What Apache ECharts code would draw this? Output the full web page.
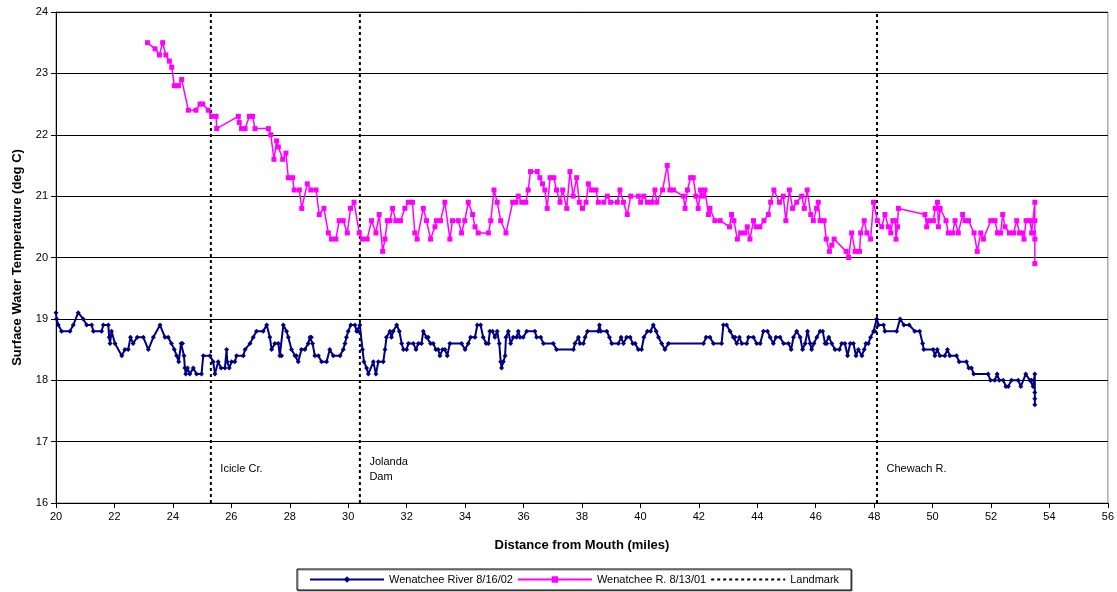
<!DOCTYPE html>
<html>
<head>
<meta charset="utf-8">
<title>Wenatchee River surface temperature</title>
<script src="https://cdn.jsdelivr.net/npm/echarts@6/dist/echarts.min.js"></script>
<style>
	* { margin: 0; padding: 0 }
	html, body { width: 100%; height: 100%; background: #fff; }
	#main { width: 1117px; height: 592px; }
</style>
</head>
<body>
<div id="main"></div>
<script>
// 2002 survey (blue)
var miles02 = [20.0, 20.02, 20.08, 20.19, 20.48, 20.59, 20.76, 20.93, 21.05, 21.22, 21.28, 21.56, 21.62, 21.79, 21.82, 21.85, 21.9, 22.02, 22.25, 22.36, 22.47, 22.55, 22.64, 22.78, 22.99, 23.16, 23.33, 23.56, 23.73, 23.84, 23.95, 24.05, 24.13, 24.2, 24.28, 24.33, 24.38, 24.41, 24.44, 24.5, 24.58, 24.7, 24.81, 24.98, 25.04, 25.27, 25.38, 25.44, 25.55, 25.65, 25.78, 25.84, 25.86, 25.93, 26.01, 26.12, 26.18, 26.41, 26.47, 26.64, 26.75, 26.86, 27.09, 27.21, 27.32, 27.38, 27.49, 27.61, 27.66, 27.72, 27.78, 27.89, 27.95, 28.06, 28.18, 28.23, 28.29, 28.40, 28.52, 28.63, 28.69, 28.74, 28.78, 28.86, 28.98, 29.09, 29.26, 29.37, 29.49, 29.72, 29.83, 29.89, 29.94, 30.0, 30.09, 30.23, 30.29, 30.34, 30.40, 30.49, 30.54, 30.63, 30.69, 30.86, 30.95, 31.03, 31.2, 31.26, 31.31, 31.43, 31.48, 31.54, 31.66, 31.75, 31.83, 31.89, 32.0, 32.06, 32.23, 32.32, 32.40, 32.51, 32.57, 32.68, 32.74, 32.82, 32.91, 33.0, 33.08, 33.14, 33.23, 33.31, 33.39, 33.48, 33.88, 34.0, 34.11, 34.19, 34.34, 34.42, 34.53, 34.62, 34.72, 34.8, 34.85, 34.94, 35.02, 35.1, 35.17, 35.22, 35.25, 35.31, 35.37, 35.40, 35.48, 35.56, 35.65, 35.76, 35.82, 35.88, 35.99, 36.11, 36.39, 36.45, 36.59, 36.68, 37.02, 37.13, 37.71, 37.76, 37.88, 37.93, 38.05, 38.11, 38.19, 38.56, 38.6, 38.64, 38.85, 38.94, 39.02, 39.25, 39.34, 39.42, 39.53, 39.65, 39.74, 39.82, 39.93, 40.04, 40.12, 40.24, 40.35, 40.44, 40.54, 40.62, 40.73, 40.84, 40.96, 42.16, 42.25, 42.38, 42.5, 42.78, 42.84, 42.95, 43.07, 43.18, 43.24, 43.3, 43.39, 43.47, 43.64, 43.7, 43.87, 43.98, 44.1, 44.21, 44.35, 44.44, 44.55, 44.64, 44.78, 44.9, 45.07, 45.16, 45.24, 45.35, 45.47, 45.55, 45.64, 45.72, 45.81, 45.86, 45.94, 46.04, 46.15, 46.24, 46.32, 46.38, 46.45, 46.55, 46.66, 46.81, 46.89, 47.0, 47.09, 47.18, 47.29, 47.38, 47.46, 47.58, 47.66, 47.72, 47.8, 47.88, 47.98, 48.03, 48.09, 48.15, 48.32, 48.37, 48.77, 48.89, 49.02, 49.2, 49.39, 49.56, 49.66, 49.7, 50.02, 50.08, 50.16, 50.25, 50.42, 50.51, 50.59, 50.82, 50.91, 51.16, 51.24, 51.33, 51.41, 51.9, 51.98, 52.13, 52.21, 52.28, 52.42, 52.51, 52.59, 52.7, 52.93, 53.02, 53.19, 53.33, 53.39, 53.44, 53.5, 53.5, 53.5, 53.5];
var temp02 = [19.1, 19.0, 18.9, 18.8, 18.8, 18.9, 19.1, 19.0, 18.9, 18.9, 18.8, 18.8, 18.9, 18.9, 18.7, 18.6, 18.8, 18.6, 18.4, 18.5, 18.5, 18.7, 18.6, 18.7, 18.7, 18.5, 18.7, 18.9, 18.7, 18.7, 18.6, 18.5, 18.4, 18.3, 18.6, 18.6, 18.4, 18.2, 18.1, 18.2, 18.1, 18.2, 18.1, 18.1, 18.4, 18.4, 18.3, 18.1, 18.3, 18.2, 18.2, 18.5, 18.3, 18.2, 18.3, 18.3, 18.4, 18.4, 18.5, 18.6, 18.7, 18.8, 18.8, 18.9, 18.7, 18.5, 18.6, 18.6, 18.4, 18.4, 18.9, 18.8, 18.7, 18.5, 18.4, 18.4, 18.3, 18.5, 18.5, 18.6, 18.7, 18.7, 18.6, 18.4, 18.4, 18.3, 18.3, 18.5, 18.4, 18.4, 18.5, 18.6, 18.7, 18.8, 18.9, 18.9, 18.8, 18.8, 18.9, 18.5, 18.3, 18.2, 18.1, 18.3, 18.1, 18.3, 18.3, 18.5, 18.7, 18.8, 18.7, 18.8, 18.9, 18.8, 18.6, 18.5, 18.5, 18.6, 18.6, 18.5, 18.6, 18.6, 18.8, 18.7, 18.7, 18.6, 18.6, 18.5, 18.5, 18.4, 18.5, 18.5, 18.4, 18.6, 18.6, 18.5, 18.6, 18.7, 18.7, 18.9, 18.9, 18.7, 18.6, 18.6, 18.8, 18.8, 18.7, 18.8, 18.6, 18.3, 18.2, 18.3, 18.4, 18.7, 18.8, 18.6, 18.7, 18.7, 18.8, 18.7, 18.7, 18.8, 18.8, 18.7, 18.7, 18.6, 18.6, 18.5, 18.5, 18.6, 18.7, 18.6, 18.6, 18.7, 18.8, 18.8, 18.9, 18.8, 18.8, 18.7, 18.6, 18.6, 18.7, 18.6, 18.7, 18.7, 18.6, 18.6, 18.5, 18.5, 18.7, 18.8, 18.8, 18.9, 18.8, 18.7, 18.6, 18.5, 18.6, 18.6, 18.7, 18.7, 18.6, 18.6, 18.9, 18.9, 18.8, 18.7, 18.7, 18.6, 18.7, 18.6, 18.6, 18.7, 18.7, 18.6, 18.6, 18.8, 18.8, 18.7, 18.6, 18.7, 18.7, 18.6, 18.6, 18.5, 18.7, 18.8, 18.7, 18.5, 18.6, 18.8, 18.6, 18.5, 18.6, 18.7, 18.8, 18.8, 18.6, 18.6, 18.7, 18.6, 18.5, 18.5, 18.6, 18.6, 18.4, 18.6, 18.6, 18.4, 18.5, 18.4, 18.5, 18.6, 18.6, 18.7, 18.8, 18.8, 19.0, 18.9, 18.9, 18.8, 18.8, 19.0, 18.9, 18.9, 18.8, 18.8, 18.6, 18.5, 18.5, 18.4, 18.5, 18.4, 18.4, 18.5, 18.4, 18.4, 18.3, 18.3, 18.2, 18.2, 18.1, 18.1, 18.0, 18.0, 18.1, 18.0, 18.0, 17.9, 17.9, 18.0, 18.0, 17.9, 18.1, 18.0, 18.0, 17.9, 18.1, 17.8, 17.7, 17.6];

// 2001 survey (magenta)
var miles01 = [23.13, 23.39, 23.54, 23.65, 23.76, 23.88, 23.96, 24.05, 24.19, 24.3, 24.53, 24.79, 24.93, 25.02, 25.21, 25.33, 25.48, 25.5, 26.24, 26.27, 26.35, 26.47, 26.62, 26.73, 26.81, 27.27, 27.35, 27.46, 27.55, 27.61, 27.76, 27.87, 27.95, 28.1, 28.15, 28.33, 28.41, 28.6, 28.72, 28.9, 29.01, 29.17, 29.32, 29.43, 29.58, 29.69, 29.83, 29.97, 30.08, 30.2, 30.38, 30.49, 30.65, 30.8, 30.95, 31.06, 31.18, 31.26, 31.34, 31.43, 31.52, 31.63, 31.79, 31.94, 32.06, 32.2, 32.28, 32.36, 32.57, 32.68, 32.82, 32.97, 33.02, 33.16, 33.31, 33.48, 33.57, 33.77, 33.88, 33.99, 34.11, 34.26, 34.34, 34.45, 34.8, 34.88, 34.99, 35.1, 35.22, 35.4, 35.63, 35.74, 35.82, 35.94, 36.08, 36.16, 36.24, 36.47, 36.56, 36.65, 36.73, 36.81, 36.91, 37.04, 37.13, 37.25, 37.34, 37.48, 37.59, 37.7, 37.82, 37.91, 38.02, 38.14, 38.22, 38.33, 38.48, 38.56, 38.75, 38.87, 38.98, 39.21, 39.3, 39.42, 39.55, 39.67, 39.93, 40.01, 40.12, 40.24, 40.38, 40.5, 40.56, 40.76, 40.92, 41.01, 41.13, 41.47, 41.53, 41.61, 41.72, 41.81, 41.9, 41.98, 42.06, 42.13, 42.21, 42.33, 42.38, 42.55, 42.73, 43.05, 43.12, 43.2, 43.32, 43.43, 43.58, 43.66, 43.75, 43.87, 43.96, 44.09, 44.23, 44.38, 44.46, 44.57, 44.76, 44.89, 44.98, 45.1, 45.21, 45.35, 45.52, 45.61, 45.71, 45.83, 45.92, 46.03, 46.09, 46.15, 46.29, 46.36, 46.47, 46.55, 46.63, 47.04, 47.13, 47.23, 47.35, 47.5, 47.54, 47.66, 47.75, 47.88, 47.98, 48.11, 48.26, 48.37, 48.49, 48.57, 48.64, 48.72, 48.75, 48.8, 48.83, 49.74, 49.8, 49.86, 50.03, 50.09, 50.17, 50.2, 50.26, 50.46, 50.54, 50.69, 50.77, 50.88, 51.03, 51.11, 51.23, 51.42, 51.53, 51.65, 51.74, 51.99, 52.14, 52.22, 52.33, 52.4, 52.48, 52.63, 52.77, 52.88, 52.97, 53.05, 53.13, 53.2, 53.34, 53.39, 53.45, 53.5, 53.5, 53.5, 53.5];
var temp01 = [23.5, 23.4, 23.3, 23.5, 23.3, 23.2, 23.1, 22.8, 22.8, 22.9, 22.4, 22.4, 22.5, 22.5, 22.4, 22.3, 22.3, 22.1, 22.3, 22.2, 22.1, 22.1, 22.3, 22.3, 22.1, 22.1, 22.0, 21.6, 21.9, 21.8, 21.6, 21.7, 21.3, 21.3, 21.1, 21.1, 20.8, 21.2, 21.1, 21.1, 20.7, 20.8, 20.4, 20.3, 20.3, 20.6, 20.6, 20.4, 20.8, 20.9, 20.4, 20.3, 20.3, 20.6, 20.4, 20.7, 20.1, 20.3, 20.6, 20.6, 20.8, 20.6, 20.6, 20.8, 20.9, 20.9, 20.4, 20.3, 20.8, 20.6, 20.3, 20.5, 20.6, 20.6, 20.9, 20.3, 20.6, 20.6, 20.4, 20.6, 20.9, 20.7, 20.5, 20.4, 20.4, 20.6, 21.1, 20.9, 20.6, 20.4, 20.9, 20.9, 21.0, 20.9, 20.9, 21.1, 21.4, 21.4, 21.3, 21.2, 21.1, 20.8, 21.3, 21.3, 21.1, 20.9, 21.1, 20.8, 21.4, 21.0, 21.3, 20.9, 20.8, 20.9, 21.2, 21.1, 21.1, 20.9, 20.9, 21.0, 20.9, 20.9, 21.1, 20.9, 20.7, 21.0, 21.0, 20.9, 21.0, 20.9, 20.9, 21.1, 20.9, 21.1, 21.5, 21.1, 21.1, 21.0, 20.8, 21.1, 21.3, 21.3, 21.0, 20.8, 21.1, 21.0, 21.1, 20.7, 20.8, 20.6, 20.6, 20.5, 20.7, 20.6, 20.3, 20.4, 20.4, 20.5, 20.3, 20.6, 20.5, 20.5, 20.6, 20.7, 20.9, 21.1, 20.9, 21.0, 20.6, 21.1, 20.8, 20.9, 21.0, 20.8, 21.1, 20.7, 20.6, 20.8, 20.9, 20.6, 20.6, 20.3, 20.1, 20.2, 20.3, 20.1, 20.0, 20.4, 20.1, 20.1, 20.4, 20.6, 20.4, 20.3, 20.9, 20.6, 20.5, 20.7, 20.5, 20.4, 20.6, 20.6, 20.3, 20.5, 20.8, 20.7, 20.5, 20.6, 20.6, 20.8, 20.9, 20.5, 20.8, 20.6, 20.4, 20.4, 20.6, 20.4, 20.7, 20.6, 20.6, 20.4, 20.1, 20.4, 20.3, 20.6, 20.6, 20.4, 20.4, 20.7, 20.5, 20.4, 20.4, 20.6, 20.4, 20.4, 20.3, 20.6, 20.6, 20.4, 20.4, 20.9, 20.6, 20.3, 19.9];

var landmarkMiles = [25.3, 30.4, 48.1];
var landmarkNames = ['Icicle Cr.', 'Jolanda\nDam', 'Chewach R.'];
var landmarkLabelTemp = 16.55;

var seriesNames = ['Wenatchee River 8/16/02', 'Wenatchee R. 8/13/01', 'Landmark'];

function pairs(xs, ys) {
	var out = [];
	for (var i = 0; i < xs.length; i++) out.push([xs[i], ys[i]]);
	return out;
}

var font = 'Liberation Sans, Arial, sans-serif';
var chart = echarts.init(document.getElementById('main'));

var series = [];
for (var i = 0; i < landmarkMiles.length; i++) {
	series.push({
		name: 'Landmark',
		type: 'line',
		symbol: 'none',
		silent: true,
		lineStyle: { color: '#000', width: 2, type: [3, 3] },
		itemStyle: { color: '#000' },
		data: [[landmarkMiles[i], 16], [landmarkMiles[i], 24]],
		markPoint: {
			symbol: 'circle',
			symbolSize: 1,
			itemStyle: { color: 'rgba(0,0,0,0)' },
			label: {
				show: true, position: 'right', distance: 9,
				color: '#000', fontSize: 11, fontFamily: font, lineHeight: 15,
				formatter: '{b}'
			},
			data: [{ name: landmarkNames[i], coord: [landmarkMiles[i], landmarkLabelTemp] }]
		}
	});
}
series.push({
	name: seriesNames[0],
	type: 'line',
	symbol: 'diamond',
	symbolSize: 5,
	showAllSymbol: true,
	color: '#000080',
	lineStyle: { color: '#000080', width: 2 },
	itemStyle: { color: '#000080' },
	data: pairs(miles02, temp02)
});
series.push({
	name: seriesNames[1],
	type: 'line',
	symbol: 'rect',
	symbolSize: 5,
	showAllSymbol: true,
	color: '#ff00ff',
	lineStyle: { color: '#ff00ff', width: 1.5 },
	itemStyle: { color: '#ff00ff' },
	data: pairs(miles01, temp01)
});

chart.setOption({
	animation: false,
	textStyle: { fontFamily: font },
	grid: {
		left: 56, right: 7, top: 12, bottom: 89,
		show: true, borderColor: '#808080', borderWidth: 1
	},
	legend: {
		data: [
			seriesNames[0],
			seriesNames[1],
			{ name: seriesNames[2], itemStyle: { color: 'rgba(0,0,0,0)', borderWidth: 0 } }
		],
		left: 297, top: 569,
		padding: [5, 12, 5, 12],
		itemWidth: 74, itemHeight: 8, itemGap: 4,
		borderColor: '#000', borderWidth: 1,
		backgroundColor: '#fff',
		shadowColor: 'rgba(0,0,0,0.45)', shadowOffsetX: 1, shadowOffsetY: 1, shadowBlur: 0,
		textStyle: { fontSize: 11, color: '#000', fontFamily: font }
	},
	xAxis: {
		type: 'value', min: 20, max: 56, interval: 2,
		name: 'Distance from Mouth (miles)',
		nameLocation: 'middle', nameGap: 36,
		nameTextStyle: { fontWeight: 'bold', fontSize: 13, color: '#000' },
		axisLine: { lineStyle: { color: '#000' } },
		axisTick: { show: true, length: 5, lineStyle: { color: '#000' } },
		axisLabel: { fontSize: 11, color: '#000', margin: 8 },
		splitLine: { show: false }
	},
	yAxis: {
		type: 'value', min: 16, max: 24, interval: 1,
		name: 'Surface Water Temperature (deg C)',
		nameLocation: 'middle', nameGap: 32,
		nameTextStyle: { fontWeight: 'bold', fontSize: 13, color: '#000' },
		axisLine: { show: true, lineStyle: { color: '#000' } },
		axisTick: { show: true, length: 5, lineStyle: { color: '#000' } },
		axisLabel: { fontSize: 11, color: '#000', margin: 8 },
		splitLine: { show: true, lineStyle: { color: '#000', width: 1 } }
	},
	series: series
});
</script>
</body>
</html>
